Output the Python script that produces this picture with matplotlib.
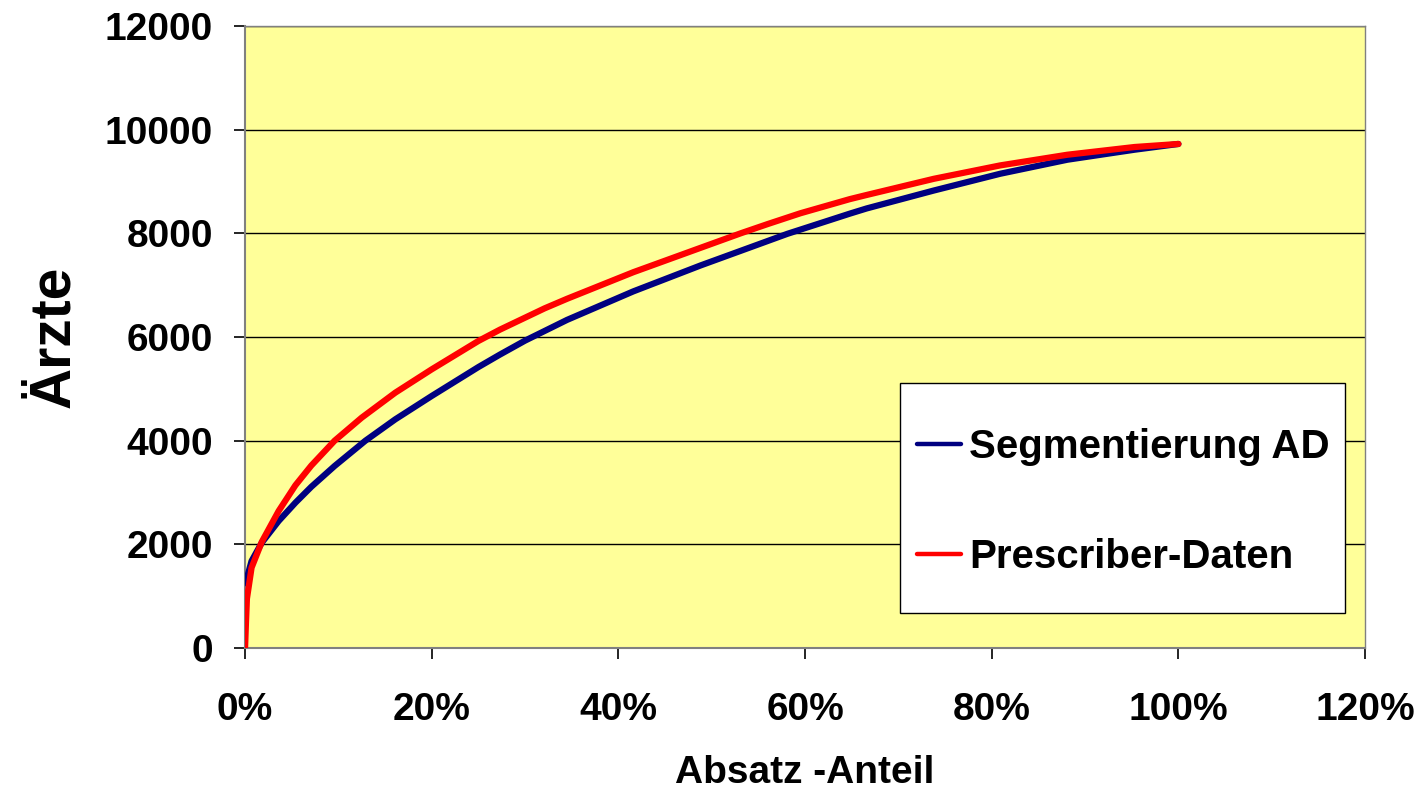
import matplotlib
matplotlib.use('Agg')
import matplotlib.pyplot as plt
from matplotlib.patches import Rectangle
from matplotlib.ticker import PercentFormatter

# Absatz-Anteil in percent vs. number of doctors
seg_pct = [0.0, 0.2, 0.7, 1.8, 3.6, 5.4, 7.1, 9.6, 12.9, 16.1, 20.0, 25.0,
           27.3, 30.0, 34.5, 41.6, 48.8, 58.1, 64.8, 66.6, 73.8, 80.9,
           88.1, 95.3, 100.0]
seg_y = [1250, 1350, 1679, 2033, 2450, 2804, 3110, 3512, 4000, 4412, 4862,
         5420, 5660, 5930, 6330, 6880, 7380, 7990, 8380, 8480, 8826, 9149,
         9420, 9613, 9724]

pres_pct = [0.0, 0.1, 0.2, 0.7, 1.8, 3.6, 5.4, 7.1, 9.6, 12.5, 16.1, 20.0,
            25.0, 27.3, 32.1, 34.5, 41.6, 48.8, 53.1, 56.0, 59.5, 64.8,
            66.6, 73.8, 80.9, 88.1, 95.3, 100.0]
pres_y = [0, 500, 950, 1550, 2050, 2643, 3140, 3520, 4000, 4444, 4926, 5376,
          5923, 6141, 6553, 6737, 7250, 7720, 8000, 8179, 8387, 8660, 8740,
          9052, 9310, 9516, 9665, 9724]

series_names = ['Segmentierung AD', 'Prescriber-Daten']
x_ticks = [0, 20, 40, 60, 80, 100, 120]
y_ticks = [0, 2000, 4000, 6000, 8000, 10000, 12000]

plt.rcParams['font.family'] = ['Liberation Sans', 'DejaVu Sans']
plt.rcParams['font.weight'] = 'bold'

fig = plt.figure(figsize=(14.23, 7.92), dpi=100)
ax = fig.add_axes([0.1722, 0.1818, 0.7871, 0.7854])
ax.set_facecolor('#FFFF99')

ax.plot(seg_pct, seg_y, color='#000080', lw=4.5, solid_capstyle='round',
        solid_joinstyle='round', label=series_names[0], zorder=3)
ax.plot(pres_pct, pres_y, color='#FF0000', lw=4.5, solid_capstyle='round',
        solid_joinstyle='round', label=series_names[1], zorder=4)

ax.set_xlim(0, 120)
ax.set_ylim(0, 12000)
ax.set_xticks(x_ticks)
ax.set_yticks(y_ticks)
ax.xaxis.set_major_formatter(PercentFormatter(100, decimals=0))
ax.yaxis.grid(True, color='black', lw=1.0)
ax.set_axisbelow(True)

for side in ['left', 'bottom']:
    ax.spines[side].set_color('#808080')
    ax.spines[side].set_linewidth(1.5)
for side in ['top', 'right']:
    ax.spines[side].set_color('#808080')
    ax.spines[side].set_linewidth(1.0)

ax.tick_params(axis='y', direction='out', length=8, width=1.2, color='black',
               labelsize=28, pad=15)
ax.tick_params(axis='x', direction='out', length=8, width=1.2, color='black',
               labelsize=28, pad=24)

ax.set_xlabel('Absatz -Anteil', fontsize=28, fontweight='bold', labelpad=19)
ax.set_ylabel('Ärzte', fontsize=41, fontweight='bold', labelpad=17)

# legend box drawn like the Excel one: white, thin black border
ax.add_patch(Rectangle((0.585, 0.056), 0.397, 0.37, transform=ax.transAxes,
                       facecolor='white', edgecolor='black', lw=1.0, zorder=5))
leg = ax.legend(loc='center left', bbox_to_anchor=(0.6, 0.2345),
                prop={'size': 29, 'weight': 'bold'}, frameon=False,
                handlelength=1.1, handletextpad=0.2, labelspacing=1.8,
                borderpad=0, borderaxespad=0)
for line in leg.get_lines():
    line.set_linewidth(3.2)
leg.set_zorder(6)

fig.savefig('out.png', dpi=100)
